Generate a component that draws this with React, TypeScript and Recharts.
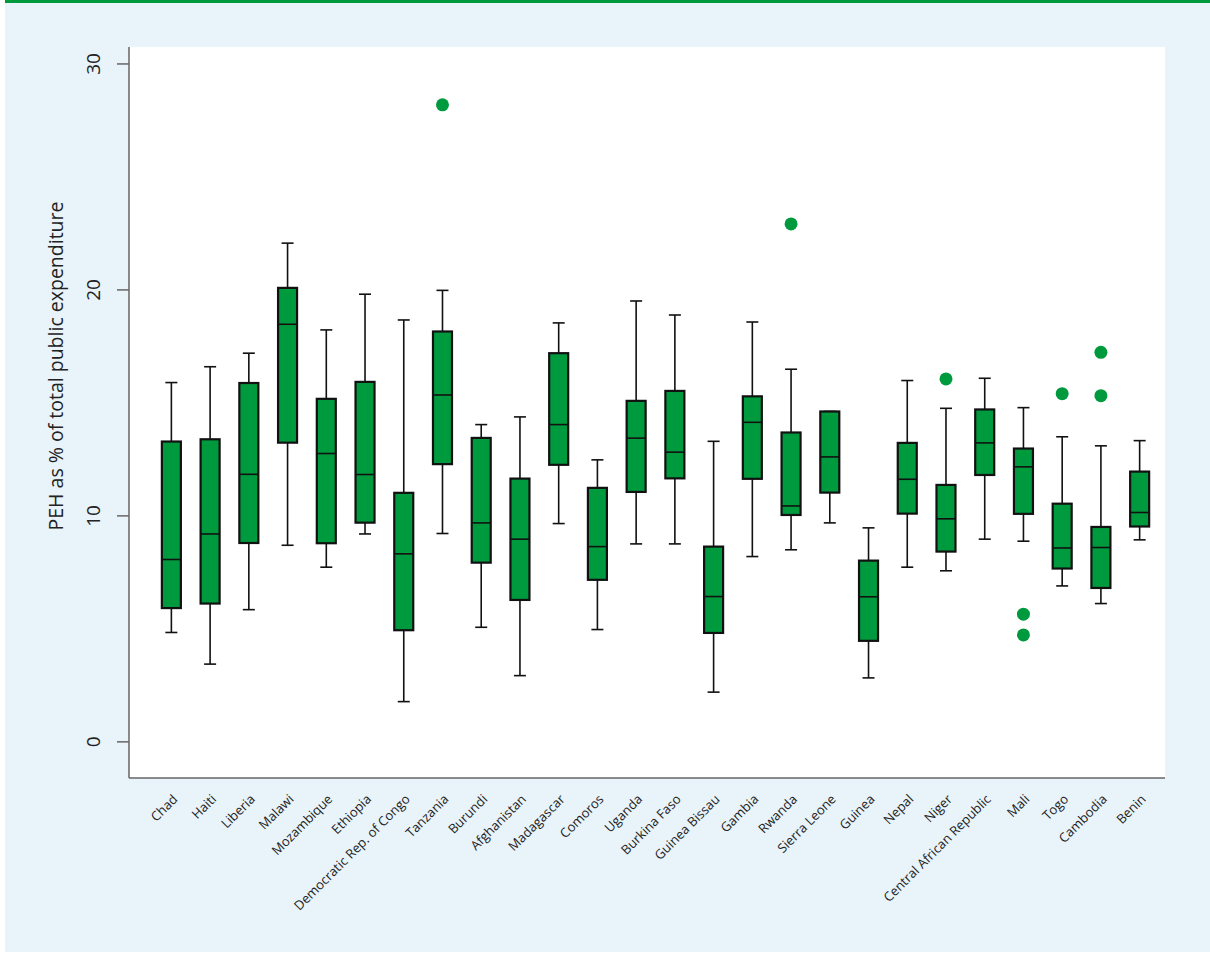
import React from 'react'
import {
  ComposedChart, Bar, Scatter, XAxis, YAxis, CartesianGrid,
} from 'recharts'

const countries = [
  'Chad', 'Haiti', 'Liberia', 'Malawi', 'Mozambique', 'Ethiopia', 'Democratic Rep. of Congo',
  'Tanzania', 'Burundi', 'Afghanistan', 'Madagascar', 'Comoros', 'Uganda', 'Burkina Faso',
  'Guinea Bissau', 'Gambia', 'Rwanda', 'Sierra Leone', 'Guinea', 'Nepal', 'Niger',
  'Central African Republic', 'Mali', 'Togo', 'Cambodia', 'Benin',
]
const whiskerLow = [4.84, 3.44, 5.85, 8.7, 7.73, 9.2, 1.78, 9.22, 5.07, 2.93, 9.66, 4.97, 8.76, 8.76, 2.2, 8.2, 8.5, 9.69, 2.83, 7.73, 7.57, 8.97, 8.88, 6.9, 6.12, 8.94]
const q1 = [5.92, 6.12, 8.8, 13.24, 8.79, 9.7, 4.94, 12.29, 7.93, 6.28, 12.26, 7.17, 11.06, 11.66, 4.82, 11.64, 10.04, 11.03, 4.47, 10.1, 8.42, 11.81, 10.09, 7.67, 6.81, 9.53]
const median = [8.07, 9.2, 11.84, 18.48, 12.76, 11.83, 8.32, 15.35, 9.69, 8.97, 14.04, 8.64, 13.44, 12.82, 6.43, 14.14, 10.44, 12.61, 6.42, 11.62, 9.87, 13.23, 12.17, 8.58, 8.6, 10.15]
const q3 = [13.29, 13.39, 15.88, 20.09, 15.18, 15.93, 11.02, 18.16, 13.45, 11.65, 17.2, 11.24, 15.09, 15.53, 8.64, 15.29, 13.69, 14.62, 8.02, 13.23, 11.37, 14.71, 12.98, 10.54, 9.51, 11.96]
const whiskerHigh = [15.9, 16.6, 17.2, 22.07, 18.23, 19.81, 18.67, 19.98, 14.04, 14.38, 18.54, 12.48, 19.51, 18.89, 13.3, 18.58, 16.49, 14.62, 9.47, 15.99, 14.76, 16.09, 14.79, 13.5, 13.1, 13.33]
const outliers: number[][] = [
  [], [], [], [], [], [], [], [28.19], [], [], [], [], [], [],
  [], [], [22.92], [], [], [], [16.06], [], [5.65, 4.73], [15.41], [17.24, 15.32], [],
]
const yTicks = [0, 10, 20, 30]

const GREEN = '#009a3e'

const data = countries.map((country, i) => ({
  country,
  range: [whiskerLow[i], whiskerHigh[i]],
  low: whiskerLow[i],
  q1: q1[i],
  median: median[i],
  q3: q3[i],
  high: whiskerHigh[i],
  o1: outliers[i][0] ?? null,
  o2: outliers[i][1] ?? null,
}))

const BoxShape = (props: any) => {
  const { x, y, width, height, payload } = props
  if (!payload || !isFinite(y) || !isFinite(height)) return <g />
  const top = Math.min(y, y + height)
  const h = Math.abs(height)
  const ppu = h / (payload.high - payload.low)
  const Y = (v: number) => top + (payload.high - v) * ppu
  const cx = x + width / 2
  const bw = 19
  const cap = 6
  return (
    <g>
      <line x1={cx} x2={cx} y1={Y(payload.high)} y2={Y(payload.q3)} stroke="#111" strokeWidth={1.6} />
      <line x1={cx} x2={cx} y1={Y(payload.q1)} y2={Y(payload.low)} stroke="#111" strokeWidth={1.6} />
      <line x1={cx - cap} x2={cx + cap} y1={Y(payload.high)} y2={Y(payload.high)} stroke="#111" strokeWidth={1.6} />
      <line x1={cx - cap} x2={cx + cap} y1={Y(payload.low)} y2={Y(payload.low)} stroke="#111" strokeWidth={1.6} />
      <rect x={cx - bw / 2} y={Y(payload.q3)} width={bw} height={Y(payload.q1) - Y(payload.q3)} fill={GREEN} stroke="#111" strokeWidth={2.2} />
      <line x1={cx - bw / 2} x2={cx + bw / 2} y1={Y(payload.median)} y2={Y(payload.median)} stroke="#111" strokeWidth={1.6} />
    </g>
  )
}

const Dot = (props: any) => {
  const { cx, cy } = props
  if (cx == null || cy == null || !isFinite(cx) || !isFinite(cy)) return <g />
  return <circle cx={cx} cy={cy} r={6.5} fill={GREEN} />
}

const XTick = ({ x, y, payload }: any) => (
  <text
    x={x + 7}
    y={y + 14}
    transform={`rotate(-45, ${x + 7}, ${y + 14})`}
    textAnchor="end"
    fontSize={13}
    fill="#222"
    fontFamily="'Open Sans', sans-serif"
  >
    {payload.value}
  </text>
)

const YTick = ({ x, y, payload }: any) => (
  <text
    x={x - 15}
    y={y}
    transform={`rotate(-90, ${x - 15}, ${y})`}
    textAnchor="middle"
    fontSize={19}
    fill="#222"
    fontFamily="'Open Sans', sans-serif"
  >
    {payload.value}
  </text>
)

export default function App() {
  return (
    <div style={{ position: 'absolute', left: 0, top: 0, width: 1210, height: 953, background: '#fff' }}>
      <div style={{ position: 'absolute', left: 5, top: 0, width: 1205, height: 952, background: '#e8f3fa' }} />
      <div style={{ position: 'absolute', left: 5, top: 0, width: 1205, height: 3, background: GREEN }} />
      <div style={{ position: 'absolute', left: 0, top: 0 }}>
        <ComposedChart
          width={1210}
          height={953}
          data={data}
          margin={{ top: 47, right: 45, bottom: 25, left: 69 }}
        >
          <CartesianGrid fill="#fff" stroke="none" horizontal={false} vertical={false} />
          <XAxis
            dataKey="country"
            type="category"
            interval={0}
            height={150}
            padding={{ left: 23, right: 6 }}
            axisLine={{ stroke: '#666', strokeWidth: 1.5 }}
            tickLine={false}
            tick={<XTick />}
          />
          <YAxis
            type="number"
            domain={[-1.6, 30.75]}
            ticks={yTicks}
            width={60}
            tickSize={12}
            axisLine={{ stroke: '#666', strokeWidth: 1.5 }}
            tickLine={{ stroke: '#666', strokeWidth: 1.5 }}
            tick={<YTick />}
            allowDataOverflow
            label={{
              content: () => (
                <text
                  x={55}
                  y={366}
                  transform="rotate(-90, 55, 366)"
                  textAnchor="middle"
                  dominantBaseline="central"
                  fontSize={19.5}
                  fill="#222"
                  fontFamily="'Open Sans', sans-serif"
                >
                  PEH as % of total public expenditure
                </text>
              ),
            }}
          />
          <Bar dataKey="range" shape={<BoxShape />} isAnimationActive={false} />
          <Scatter dataKey="o1" shape={<Dot />} isAnimationActive={false} />
          <Scatter dataKey="o2" shape={<Dot />} isAnimationActive={false} />
        </ComposedChart>
      </div>
    </div>
  )
}
